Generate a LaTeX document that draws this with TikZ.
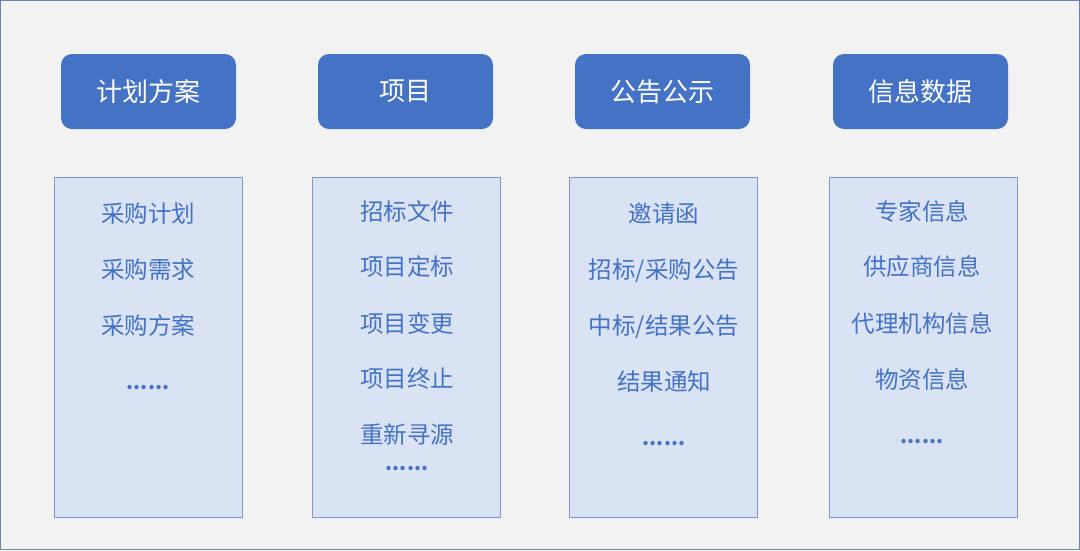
\documentclass[tikz,border=0pt]{standalone}
\usepackage{fontspec}
\newfontfamily\cjk{Noto Sans CJK SC}
\definecolor{hdr}{HTML}{4472C4}
\definecolor{panel}{HTML}{DAE3F3}
\definecolor{panelline}{HTML}{7F98C4}
\definecolor{bg}{HTML}{F2F2F2}
\definecolor{frame}{HTML}{6B83B0}
\begin{document}
\begin{tikzpicture}[x=1pt,y=-1pt,
  hdrbox/.style={fill=hdr,draw=none,rounded corners=11pt,minimum width=175pt,minimum height=75pt,inner sep=0pt,text=white,font=\cjk\fontsize{26}{28}\selectfont},
  panelbox/.style={fill=panel,draw=panelline,line width=1pt,minimum width=188pt,minimum height=340pt,inner sep=0pt},
  item/.style={text=hdr,font=\cjk\fontsize{23.5}{25}\selectfont,inner sep=0pt},
  dots/.style={text=hdr,font=\cjk\bfseries\fontsize{20}{22}\selectfont,inner sep=0pt}]
\path[fill=bg,draw=frame,line width=1pt] (0.5,0.5) rectangle (1079.5,549.5);
\useasboundingbox (0,0) rectangle (1080,550);
% headers
\node[hdrbox] (h1) at (148.5,91.5) {计划方案};
\node[hdrbox] (h2) at (405.5,91.5) {项目};
\node[hdrbox] (h3) at (662.5,91.5) {公告公示};
\node[hdrbox] (h4) at (920.5,91.5) {信息数据};
% panels
\node[panelbox] (p1) at (148,347) {};
\node[panelbox] (p2) at (406.5,347) {};
\node[panelbox] (p3) at (663.5,347) {};
\node[panelbox] (p4) at (923,347) {};
% column 1
\node[item] (a1) at (148,214) {采购计划};
\node[item] (a2) at (148,270) {采购需求};
\node[item] (a3) at (148,326) {采购方案};
\node[dots] (a4) at (148,388) {......};
% column 2
\node[item] (b1) at (407,211) {招标文件};
\node[item] (b2) at (407,267) {项目定标};
\node[item] (b3) at (407,323) {项目变更};
\node[item] (b4) at (407,379) {项目终止};
\node[item] (b5) at (407,435) {重新寻源};
\node[dots] (b6) at (407,469) {......};
% column 3
\node[item] (c1) at (664,214) {邀请函};
\node[item] (c2) at (664,271) {招标/采购公告};
\node[item] (c3) at (664,327) {中标/结果公告};
\node[item] (c4) at (664,382) {结果通知};
\node[dots] (c5) at (664,444) {......};
% column 4
\node[item] (d1) at (922,211) {专家信息};
\node[item] (d2) at (922,267) {供应商信息};
\node[item] (d3) at (922,323) {代理机构信息};
\node[item] (d4) at (922,379) {物资信息};
\node[dots] (d5) at (922,442) {......};
\end{tikzpicture}
\end{document}
